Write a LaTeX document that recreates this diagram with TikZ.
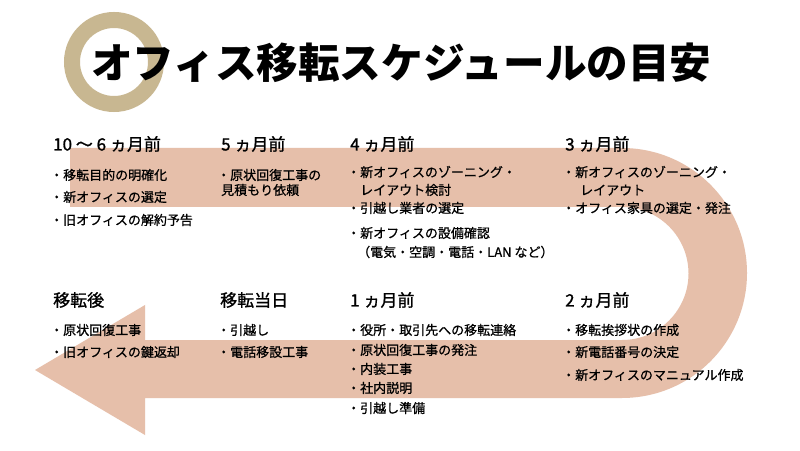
\documentclass[tikz,border=0pt]{standalone}
\usepackage{fontspec}
\usepackage{tikz}
\newfontfamily\jp{Noto Sans CJK JP}
\newfontfamily\jpm{Noto Sans CJK JP}[FakeBold=0.8]
\newfontfamily\jph{Noto Sans CJK JP}[FakeBold=1.2]
\definecolor{band}{RGB}{230,191,170}
\definecolor{ring}{RGB}{200,183,145}
\begin{document}
\begin{tikzpicture}[x=1pt,y=1pt,
	titletext/.style={anchor=west,inner sep=0pt,font=\jp\bfseries\fontsize{41.6}{41.6}\selectfont},
	head/.style={anchor=west,inner sep=0pt,font=\jph\fontsize{17}{17}\selectfont},
	item/.style={anchor=west,inner sep=0pt,font=\jpm\fontsize{13}{13}\selectfont}]
					\useasboundingbox (0,0) rectangle (800,450);
					\fill[white] (0,0) rectangle (800,450);
					\fill[band] (70,302) -- (622,302) arc[start angle=90,end angle=-90,radius=125pt]
						-- (145,52) -- (145,15) -- (35,80) -- (145,145) -- (145,110) -- (622,110)
						arc[start angle=-90,end angle=90,radius=66.5pt] -- (70,243) -- cycle;
					\draw[ring,line width=16pt] (114,388) circle[radius=42pt];
					\node[titletext] (title) at (91,387) {オフィス移転スケジュールの目安};
					\node[head] (h1) at (53,306) {10 ～ 6 ヵ月前};
					\node[head] (h2) at (221,306) {5 ヵ月前};
					\node[head] (h3) at (350,306) {4 ヵ月前};
					\node[head] (h4) at (565,306) {3 ヵ月前};
					\node[head] (h5) at (53,150) {移転後};
					\node[head] (h6) at (220,150) {移転当日};
					\node[head] (h7) at (350,150) {1 ヵ月前};
					\node[head] (h8) at (565,150) {2 ヵ月前};
					\node[item] (a1) at (50,275) {・移転目的の明確化};
					\node[item] (a2) at (50,253) {・新オフィスの選定};
					\node[item] (a3) at (50,230) {・旧オフィスの解約予告};
					\node[item] (b1) at (217,275) {・原状回復工事の};
					\node[item] (b2) at (221,260) {見積もり依頼};
					\node[item] (c1) at (347,278) {・新オフィスのゾーニング・};
					\node[item] (c2) at (360,260) {レイアウト検討};
					\node[item] (c3) at (347,242) {・引越し業者の選定};
					\node[item] (c4) at (347,217) {・新オフィスの設備確認};
					\node[item] (c5) at (357,198) {（電気・空調・電話・LAN など）};
					\node[item] (d1) at (562,278) {・新オフィスのゾーニング・};
					\node[item] (d2) at (580,260) {レイアウト};
					\node[item] (d3) at (562,242) {・オフィス家具の選定・発注};
					\node[item] (e1) at (50,120) {・原状回復工事};
					\node[item] (e2) at (50,98) {・旧オフィスの鍵返却};
					\node[item] (f1) at (217,120) {・引越し};
					\node[item] (f2) at (217,98) {・電話移設工事};
					\node[item] (g1) at (347,120) {・役所・取引先への移転連絡};
					\node[item] (g2) at (347,100) {・原状回復工事の発注};
					\node[item] (g3) at (347,81) {・内装工事};
					\node[item] (g4) at (347,62) {・社内説明};
					\node[item] (g5) at (347,42) {・引越し準備};
					\node[item] (k1) at (562,120) {・移転挨拶状の作成};
					\node[item] (k2) at (562,98) {・新電話番号の決定};
					\node[item] (k3) at (562,75) {・新オフィスのマニュアル作成};
				\end{tikzpicture}
\end{document}
